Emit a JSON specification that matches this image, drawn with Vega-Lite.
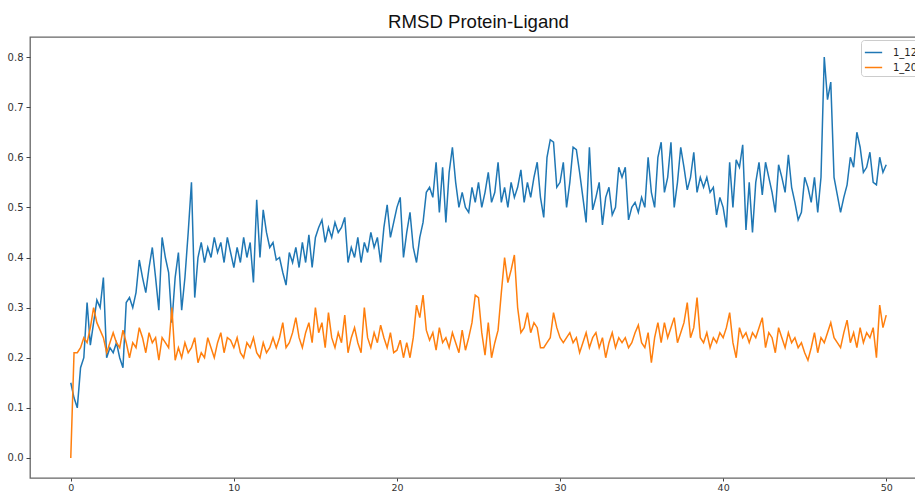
{
"$schema":"https://vega.github.io/schema/vega-lite/v6.json",
"width":897,"height":441,
"autosize":{"type":"none"},
"padding":{"left":30,"top":37,"right":0,"bottom":13},
"background":"white",
"title":{"text":"RMSD Protein-Ligand","font":"Liberation Sans","fontSize":18.6,"fontWeight":"normal","color":"#111","anchor":"middle","baseline":"alphabetic","offset":9,"dy":19},
"config":{"view":{"stroke":"#666","strokeWidth":1.3}},
"data":{"values":[
{"t":0,"1_12":0.15,"1_20":0},{"t":0.2,"1_12":0.12,"1_20":0.21},{"t":0.4,"1_12":0.10,"1_20":0.21},{"t":0.6,"1_12":0.18,"1_20":0.22},{"t":0.8,"1_12":0.20,"1_20":0.24},
{"t":1,"1_12":0.31,"1_20":0.23},{"t":1.2,"1_12":0.225,"1_20":0.26},{"t":1.4,"1_12":0.27,"1_20":0.30},{"t":1.6,"1_12":0.315,"1_20":0.27},{"t":1.8,"1_12":0.30,"1_20":0.255},
{"t":2,"1_12":0.36,"1_20":0.24},{"t":2.2,"1_12":0.20,"1_20":0.21},{"t":2.4,"1_12":0.22,"1_20":0.23},{"t":2.6,"1_12":0.21,"1_20":0.25},{"t":2.8,"1_12":0.23,"1_20":0.23},
{"t":3,"1_12":0.20,"1_20":0.22},{"t":3.2,"1_12":0.18,"1_20":0.255},{"t":3.4,"1_12":0.31,"1_20":0.23},{"t":3.6,"1_12":0.32,"1_20":0.20},{"t":3.8,"1_12":0.30,"1_20":0.23},
{"t":4,"1_12":0.33,"1_20":0.22},{"t":4.2,"1_12":0.395,"1_20":0.26},{"t":4.4,"1_12":0.36,"1_20":0.24},{"t":4.6,"1_12":0.33,"1_20":0.21},{"t":4.8,"1_12":0.38,"1_20":0.25},
{"t":5,"1_12":0.42,"1_20":0.23},{"t":5.2,"1_12":0.36,"1_20":0.24},{"t":5.4,"1_12":0.295,"1_20":0.195},{"t":5.6,"1_12":0.44,"1_20":0.24},{"t":5.8,"1_12":0.40,"1_20":0.23},
{"t":6,"1_12":0.37,"1_20":0.22},{"t":6.2,"1_12":0.27,"1_20":0.30},{"t":6.4,"1_12":0.36,"1_20":0.195},{"t":6.6,"1_12":0.41,"1_20":0.22},{"t":6.8,"1_12":0.295,"1_20":0.20},
{"t":7,"1_12":0.36,"1_20":0.23},{"t":7.2,"1_12":0.45,"1_20":0.21},{"t":7.4,"1_12":0.55,"1_20":0.22},{"t":7.6,"1_12":0.32,"1_20":0.24},{"t":7.8,"1_12":0.40,"1_20":0.19},
{"t":8,"1_12":0.43,"1_20":0.21},{"t":8.2,"1_12":0.39,"1_20":0.20},{"t":8.4,"1_12":0.42,"1_20":0.24},{"t":8.6,"1_12":0.40,"1_20":0.22},{"t":8.8,"1_12":0.44,"1_20":0.20},
{"t":9,"1_12":0.41,"1_20":0.23},{"t":9.2,"1_12":0.43,"1_20":0.25},{"t":9.4,"1_12":0.39,"1_20":0.21},{"t":9.6,"1_12":0.44,"1_20":0.24},{"t":9.8,"1_12":0.41,"1_20":0.235},
{"t":10,"1_12":0.38,"1_20":0.22},{"t":10.2,"1_12":0.42,"1_20":0.24},{"t":10.4,"1_12":0.39,"1_20":0.21},{"t":10.6,"1_12":0.44,"1_20":0.20},{"t":10.8,"1_12":0.40,"1_20":0.23},
{"t":11,"1_12":0.43,"1_20":0.22},{"t":11.2,"1_12":0.35,"1_20":0.24},{"t":11.4,"1_12":0.515,"1_20":0.21},{"t":11.6,"1_12":0.40,"1_20":0.20},{"t":11.8,"1_12":0.495,"1_20":0.23},
{"t":12,"1_12":0.45,"1_20":0.21},{"t":12.2,"1_12":0.42,"1_20":0.22},{"t":12.4,"1_12":0.43,"1_20":0.24},{"t":12.6,"1_12":0.395,"1_20":0.22},{"t":12.8,"1_12":0.40,"1_20":0.24},
{"t":13,"1_12":0.37,"1_20":0.27},{"t":13.2,"1_12":0.345,"1_20":0.22},{"t":13.4,"1_12":0.41,"1_20":0.23},{"t":13.6,"1_12":0.39,"1_20":0.25},{"t":13.8,"1_12":0.42,"1_20":0.28},
{"t":14,"1_12":0.38,"1_20":0.24},{"t":14.2,"1_12":0.43,"1_20":0.22},{"t":14.4,"1_12":0.39,"1_20":0.25},{"t":14.6,"1_12":0.445,"1_20":0.27},{"t":14.8,"1_12":0.38,"1_20":0.23},
{"t":15,"1_12":0.44,"1_20":0.30},{"t":15.2,"1_12":0.46,"1_20":0.25},{"t":15.4,"1_12":0.475,"1_20":0.27},{"t":15.6,"1_12":0.43,"1_20":0.22},{"t":15.8,"1_12":0.46,"1_20":0.29},
{"t":16,"1_12":0.44,"1_20":0.24},{"t":16.2,"1_12":0.47,"1_20":0.22},{"t":16.4,"1_12":0.45,"1_20":0.25},{"t":16.6,"1_12":0.46,"1_20":0.23},{"t":16.8,"1_12":0.48,"1_20":0.285},
{"t":17,"1_12":0.39,"1_20":0.21},{"t":17.2,"1_12":0.42,"1_20":0.24},{"t":17.4,"1_12":0.40,"1_20":0.26},{"t":17.6,"1_12":0.44,"1_20":0.23},{"t":17.8,"1_12":0.39,"1_20":0.21},
{"t":18,"1_12":0.43,"1_20":0.30},{"t":18.2,"1_12":0.41,"1_20":0.24},{"t":18.4,"1_12":0.45,"1_20":0.22},{"t":18.6,"1_12":0.42,"1_20":0.25},{"t":18.8,"1_12":0.44,"1_20":0.23},
{"t":19,"1_12":0.39,"1_20":0.265},{"t":19.2,"1_12":0.46,"1_20":0.24},{"t":19.4,"1_12":0.505,"1_20":0.22},{"t":19.6,"1_12":0.44,"1_20":0.25},{"t":19.8,"1_12":0.47,"1_20":0.21},
{"t":20,"1_12":0.50,"1_20":0.215},{"t":20.2,"1_12":0.52,"1_20":0.235},{"t":20.4,"1_12":0.40,"1_20":0.20},{"t":20.6,"1_12":0.45,"1_20":0.23},{"t":20.8,"1_12":0.49,"1_20":0.20},
{"t":21,"1_12":0.42,"1_20":0.24},{"t":21.2,"1_12":0.39,"1_20":0.305},{"t":21.4,"1_12":0.44,"1_20":0.28},{"t":21.6,"1_12":0.47,"1_20":0.325},{"t":21.8,"1_12":0.53,"1_20":0.255},
{"t":22,"1_12":0.54,"1_20":0.235},{"t":22.2,"1_12":0.52,"1_20":0.25},{"t":22.4,"1_12":0.59,"1_20":0.215},{"t":22.6,"1_12":0.49,"1_20":0.26},{"t":22.8,"1_12":0.58,"1_20":0.23},
{"t":23,"1_12":0.47,"1_20":0.24},{"t":23.2,"1_12":0.57,"1_20":0.22},{"t":23.4,"1_12":0.62,"1_20":0.25},{"t":23.6,"1_12":0.55,"1_20":0.23},{"t":23.8,"1_12":0.50,"1_20":0.21},
{"t":24,"1_12":0.53,"1_20":0.255},{"t":24.2,"1_12":0.50,"1_20":0.215},{"t":24.4,"1_12":0.49,"1_20":0.24},{"t":24.6,"1_12":0.54,"1_20":0.27},{"t":24.8,"1_12":0.51,"1_20":0.325},
{"t":25,"1_12":0.55,"1_20":0.32},{"t":25.2,"1_12":0.50,"1_20":0.25},{"t":25.4,"1_12":0.53,"1_20":0.205},{"t":25.6,"1_12":0.57,"1_20":0.27},{"t":25.8,"1_12":0.51,"1_20":0.20},
{"t":26,"1_12":0.53,"1_20":0.23},{"t":26.2,"1_12":0.59,"1_20":0.255},{"t":26.4,"1_12":0.51,"1_20":0.33},{"t":26.6,"1_12":0.54,"1_20":0.40},{"t":26.8,"1_12":0.50,"1_20":0.35},
{"t":27,"1_12":0.55,"1_20":0.375},{"t":27.2,"1_12":0.52,"1_20":0.405},{"t":27.4,"1_12":0.54,"1_20":0.30},{"t":27.6,"1_12":0.575,"1_20":0.25},{"t":27.8,"1_12":0.51,"1_20":0.26},
{"t":28,"1_12":0.55,"1_20":0.29},{"t":28.2,"1_12":0.52,"1_20":0.25},{"t":28.4,"1_12":0.56,"1_20":0.27},{"t":28.6,"1_12":0.59,"1_20":0.26},{"t":28.8,"1_12":0.52,"1_20":0.22},
{"t":29,"1_12":0.48,"1_20":0.22},{"t":29.2,"1_12":0.60,"1_20":0.23},{"t":29.4,"1_12":0.635,"1_20":0.24},{"t":29.6,"1_12":0.63,"1_20":0.29},{"t":29.8,"1_12":0.54,"1_20":0.26},
{"t":30,"1_12":0.55,"1_20":0.24},{"t":30.2,"1_12":0.59,"1_20":0.23},{"t":30.4,"1_12":0.50,"1_20":0.24},{"t":30.6,"1_12":0.55,"1_20":0.25},{"t":30.8,"1_12":0.62,"1_20":0.23},
{"t":31,"1_12":0.615,"1_20":0.24},{"t":31.2,"1_12":0.57,"1_20":0.21},{"t":31.4,"1_12":0.52,"1_20":0.23},{"t":31.6,"1_12":0.47,"1_20":0.25},{"t":31.8,"1_12":0.62,"1_20":0.22},
{"t":32,"1_12":0.495,"1_20":0.24},{"t":32.2,"1_12":0.52,"1_20":0.25},{"t":32.4,"1_12":0.55,"1_20":0.22},{"t":32.6,"1_12":0.465,"1_20":0.24},{"t":32.8,"1_12":0.52,"1_20":0.20},
{"t":33,"1_12":0.54,"1_20":0.23},{"t":33.2,"1_12":0.485,"1_20":0.25},{"t":33.4,"1_12":0.50,"1_20":0.22},{"t":33.6,"1_12":0.58,"1_20":0.24},{"t":33.8,"1_12":0.56,"1_20":0.23},
{"t":34,"1_12":0.58,"1_20":0.24},{"t":34.2,"1_12":0.475,"1_20":0.22},{"t":34.4,"1_12":0.50,"1_20":0.23},{"t":34.6,"1_12":0.51,"1_20":0.25},{"t":34.8,"1_12":0.49,"1_20":0.265},
{"t":35,"1_12":0.52,"1_20":0.23},{"t":35.2,"1_12":0.50,"1_20":0.22},{"t":35.4,"1_12":0.60,"1_20":0.25},{"t":35.6,"1_12":0.53,"1_20":0.19},{"t":35.8,"1_12":0.50,"1_20":0.24},
{"t":36,"1_12":0.60,"1_20":0.27},{"t":36.2,"1_12":0.63,"1_20":0.23},{"t":36.4,"1_12":0.53,"1_20":0.27},{"t":36.6,"1_12":0.56,"1_20":0.24},{"t":36.8,"1_12":0.63,"1_20":0.26},
{"t":37,"1_12":0.50,"1_20":0.28},{"t":37.2,"1_12":0.55,"1_20":0.23},{"t":37.4,"1_12":0.62,"1_20":0.25},{"t":37.6,"1_12":0.58,"1_20":0.27},{"t":37.8,"1_12":0.535,"1_20":0.31},
{"t":38,"1_12":0.56,"1_20":0.24},{"t":38.2,"1_12":0.61,"1_20":0.26},{"t":38.4,"1_12":0.53,"1_20":0.32},{"t":38.6,"1_12":0.56,"1_20":0.24},{"t":38.8,"1_12":0.54,"1_20":0.23},
{"t":39,"1_12":0.56,"1_20":0.25},{"t":39.2,"1_12":0.53,"1_20":0.22},{"t":39.4,"1_12":0.54,"1_20":0.24},{"t":39.6,"1_12":0.485,"1_20":0.23},{"t":39.8,"1_12":0.52,"1_20":0.25},
{"t":40,"1_12":0.50,"1_20":0.24},{"t":40.2,"1_12":0.46,"1_20":0.26},{"t":40.4,"1_12":0.59,"1_20":0.29},{"t":40.6,"1_12":0.50,"1_20":0.23},{"t":40.8,"1_12":0.595,"1_20":0.20},
{"t":41,"1_12":0.58,"1_20":0.26},{"t":41.2,"1_12":0.625,"1_20":0.24},{"t":41.4,"1_12":0.455,"1_20":0.25},{"t":41.6,"1_12":0.55,"1_20":0.23},{"t":41.8,"1_12":0.45,"1_20":0.25},
{"t":42,"1_12":0.55,"1_20":0.24},{"t":42.2,"1_12":0.59,"1_20":0.26},{"t":42.4,"1_12":0.525,"1_20":0.28},{"t":42.6,"1_12":0.59,"1_20":0.22},{"t":42.8,"1_12":0.56,"1_20":0.25},
{"t":43,"1_12":0.53,"1_20":0.24},{"t":43.2,"1_12":0.49,"1_20":0.21},{"t":43.4,"1_12":0.585,"1_20":0.26},{"t":43.6,"1_12":0.56,"1_20":0.24},{"t":43.8,"1_12":0.53,"1_20":0.22},
{"t":44,"1_12":0.605,"1_20":0.25},{"t":44.2,"1_12":0.54,"1_20":0.23},{"t":44.4,"1_12":0.51,"1_20":0.24},{"t":44.6,"1_12":0.475,"1_20":0.22},{"t":44.8,"1_12":0.49,"1_20":0.23},
{"t":45,"1_12":0.56,"1_20":0.21},{"t":45.2,"1_12":0.54,"1_20":0.195},{"t":45.4,"1_12":0.51,"1_20":0.22},{"t":45.6,"1_12":0.56,"1_20":0.25},{"t":45.8,"1_12":0.49,"1_20":0.21},
{"t":46,"1_12":0.56,"1_20":0.24},{"t":46.2,"1_12":0.80,"1_20":0.23},{"t":46.4,"1_12":0.715,"1_20":0.25},{"t":46.6,"1_12":0.75,"1_20":0.27},{"t":46.8,"1_12":0.56,"1_20":0.24},
{"t":47,"1_12":0.525,"1_20":0.23},{"t":47.2,"1_12":0.49,"1_20":0.22},{"t":47.4,"1_12":0.52,"1_20":0.25},{"t":47.6,"1_12":0.545,"1_20":0.275},{"t":47.8,"1_12":0.60,"1_20":0.23},
{"t":48,"1_12":0.58,"1_20":0.25},{"t":48.2,"1_12":0.65,"1_20":0.22},{"t":48.4,"1_12":0.62,"1_20":0.26},{"t":48.6,"1_12":0.57,"1_20":0.23},{"t":48.8,"1_12":0.58,"1_20":0.25},
{"t":49,"1_12":0.61,"1_20":0.24},{"t":49.2,"1_12":0.55,"1_20":0.26},{"t":49.4,"1_12":0.545,"1_20":0.20},{"t":49.6,"1_12":0.60,"1_20":0.305},{"t":49.8,"1_12":0.57,"1_20":0.26},
{"t":50,"1_12":0.585,"1_20":0.285}
]},
"transform":[{"fold":["1_12","1_20"],"as":["series","rmsd"]}],
"mark":{"type":"line","strokeWidth":1.5,"clip":true},
"encoding":{
"x":{"field":"t","type":"quantitative","scale":{"domain":[-2.5,52.5],"nice":false,"zero":false},
"axis":{"title":null,"values":[0,10,20,30,40,50],"format":"d","grid":false,"domain":false,"tickSize":3,"tickColor":"#444","labelFont":"DejaVu Sans","labelFontSize":9.5,"labelColor":"#333","labelPadding":1}},
"y":{"field":"rmsd","type":"quantitative","scale":{"domain":[-0.04,0.84],"nice":false,"zero":false},
"axis":{"title":null,"values":[0,0.1,0.2,0.3,0.4,0.5,0.6,0.7,0.8],"format":".1f","grid":false,"domain":false,"tickSize":4,"tickColor":"#444","labelFont":"DejaVu Sans","labelFontSize":10,"labelColor":"#333","labelPadding":3}},
"color":{"field":"series","type":"nominal","scale":{"domain":["1_12","1_20"],"range":["#1f77b4","#ff7f0e"]},
"legend":{"title":null,"orient":"none","legendX":831,"legendY":3,"symbolType":"stroke","symbolSize":300,"symbolStrokeWidth":1.5,"labelFont":"DejaVu Sans","labelFontSize":10,"labelColor":"#222","strokeColor":"#ccc","fillColor":"white","padding":3,"cornerRadius":3,"rowPadding":-3,"labelOffset":10}}
}
}
